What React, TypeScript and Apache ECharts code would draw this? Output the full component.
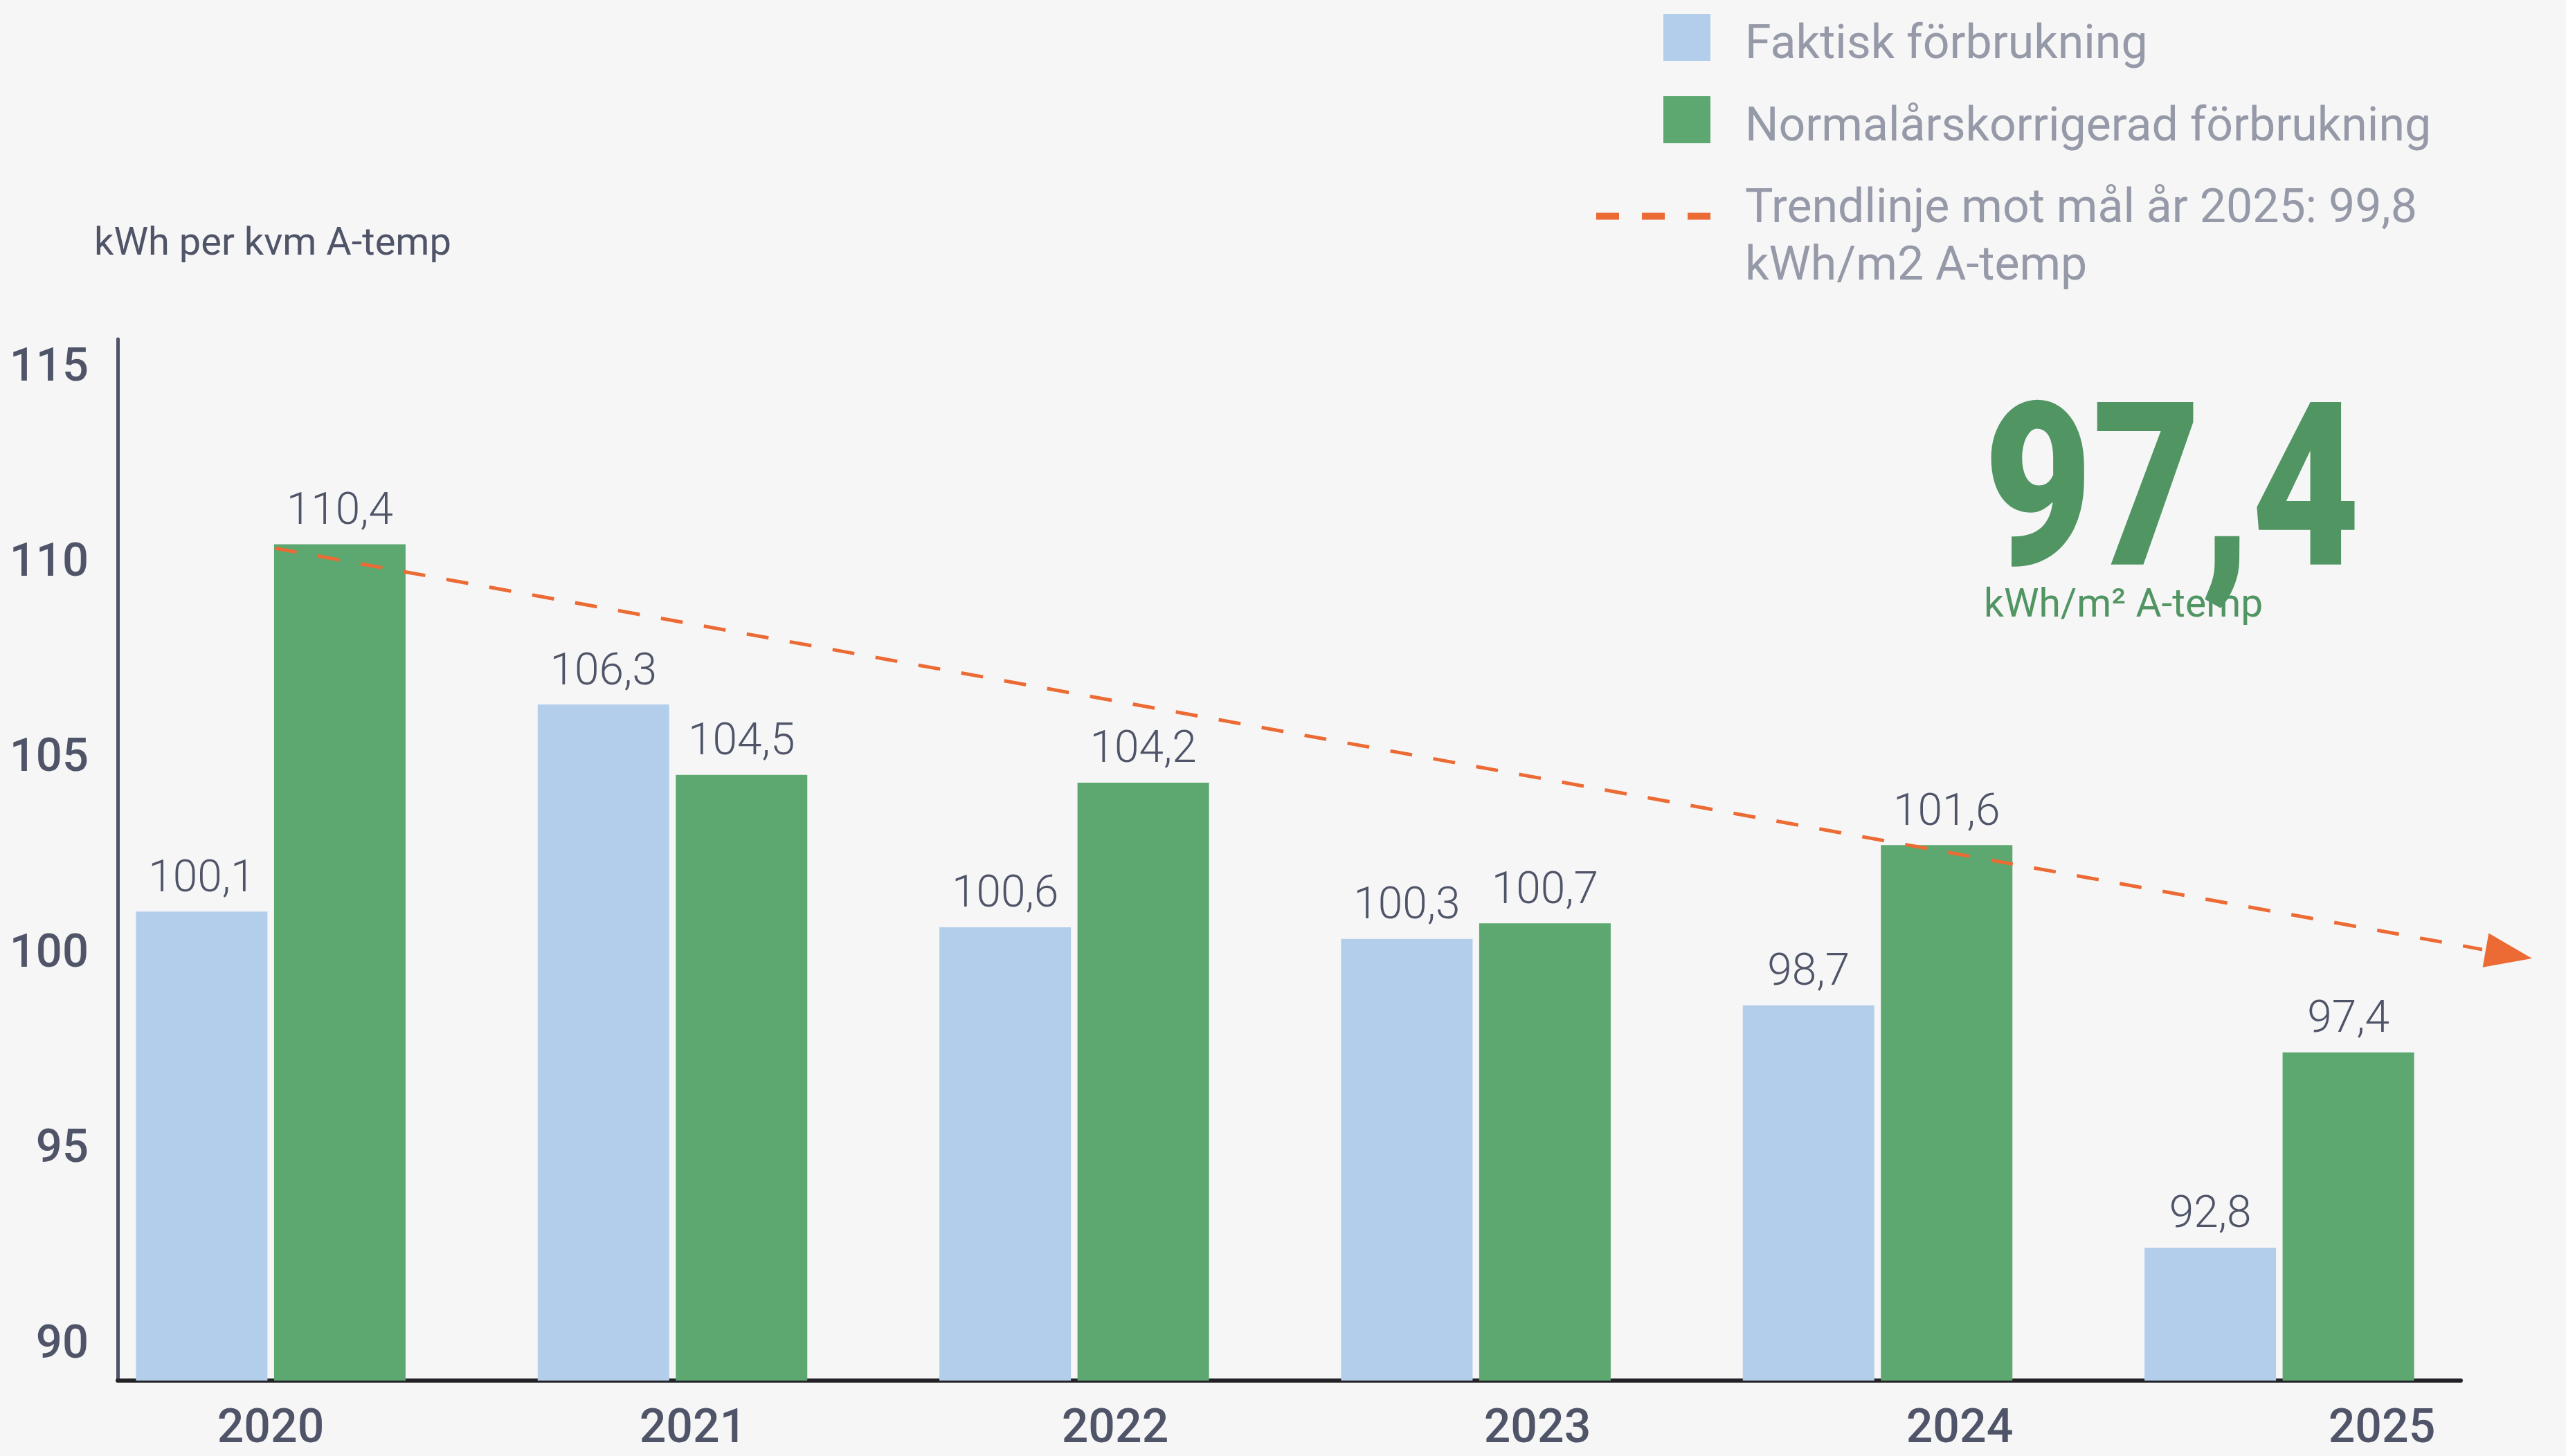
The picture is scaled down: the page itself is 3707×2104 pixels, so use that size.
import React, { useEffect, useRef } from "react";
import * as echarts from "echarts";

const years = ["2020", "2021", "2022", "2023", "2024", "2025"];
const faktiskValues = [101.0, 106.3, 100.6, 100.3, 98.6, 92.4];
const normalValues = [110.4, 104.5, 104.3, 100.7, 102.7, 97.4];
const faktiskLabels = ["100,1", "106,3", "100,6", "100,3", "98,7", "92,8"];
const normalLabels = ["110,4", "104,5", "104,2", "100,7", "101,6", "97,4"];
const yTicks = [90, 95, 100, 105, 110, 115];
const trendX = [0.01, 5.63];
const trendY = [110.3, 99.8];
const seriesNames = ["Faktisk förbrukning", "Normalårskorrigerad förbrukning", "Trendlinje mot mål år 2025: 99,8 kWh/m2 A-temp"];
const trendLegendLines = ["Trendlinje mot mål år 2025: 99,8", "kWh/m2 A-temp"];
const yAxisTitle = "kWh per kvm A-temp";
const headline = "97,4";
const headlineUnit = "kWh/m² A-temp";

const FONT = "Roboto, 'Noto Sans', sans-serif";
const TEXT = "#4F5468";
const LEGEND_TEXT = "#9599A8";
const BLUE = "#B2CEEB";
const GREEN = "#5DA870";
const DARK_GREEN = "#519563";
const ORANGE = "#EC6A33";
const BG = "#F6F6F6";

export default function App() {
  const ref = useRef<HTMLDivElement>(null);
  useEffect(() => {
    if (!ref.current) return;
    const chart = echarts.init(ref.current, null, { renderer: "svg" });
    const gridTop = 490;
    const gridHeight = 1505;
    chart.setOption({
      animation: false,
      backgroundColor: BG,
      textStyle: { fontFamily: FONT },
      title: {
        text: yAxisTitle,
        left: 136,
        top: 321,
        padding: 0,
        textStyle: { fontSize: 56, fontWeight: "normal", color: TEXT, fontFamily: FONT },
      },
      legend: [
        {
          data: [seriesNames[0], seriesNames[1]],
          orient: "vertical",
          left: 2403,
          top: 15,
          padding: 0,
          itemWidth: 68,
          itemHeight: 68,
          itemGap: 39,
          icon: "rect",
          selectedMode: false,
          formatter: (name: string) => "{s| }\n{a|" + name + "}",
          textStyle: {
            fontSize: 68,
            color: LEGEND_TEXT,
            fontFamily: FONT,
            padding: [0, 0, 0, 45],
            rich: {
              s: { lineHeight: 14, fontSize: 10 },
              a: { lineHeight: 68, fontSize: 68, color: LEGEND_TEXT, fontFamily: FONT },
            },
          },
        },
        {
          data: [{ name: seriesNames[2], icon: "path://M0,0H33V10H0ZM66,0H99V10H66ZM132,0H165V10H132Z" }],
          orient: "vertical",
          left: 2306,
          top: 264,
          padding: 0,
          itemWidth: 165,
          itemHeight: 10,
          selectedMode: false,
          formatter: () => "{a|" + trendLegendLines[0] + "}\n{b|" + trendLegendLines[1] + "}",
          textStyle: {
            fontSize: 68,
            color: LEGEND_TEXT,
            fontFamily: FONT,
            padding: [0, 0, 0, 45],
            rich: {
              a: { lineHeight: 136, fontSize: 68, color: LEGEND_TEXT, fontFamily: FONT },
              b: { lineHeight: 29, fontSize: 68, color: LEGEND_TEXT, fontFamily: FONT },
            },
          },
        },
      ],
      grid: [
        { left: 101, width: 3482, top: gridTop, height: gridHeight },
        { left: 391, width: 3050, top: gridTop, height: gridHeight },
        { left: 170, width: 3385, top: gridTop, height: gridHeight },
      ],
      xAxis: [
        {
          type: "category",
          gridIndex: 0,
          data: years,
          axisLine: { show: false },
          axisTick: { show: false },
          axisLabel: { show: false },
        },
        {
          type: "value",
          gridIndex: 0,
          min: -0.5,
          max: 5.5,
          show: false,
        },
        {
          type: "category",
          gridIndex: 1,
          data: years,
          boundaryGap: false,
          axisLine: { show: false },
          axisTick: { show: false },
          axisLabel: {
            fontSize: 68,
            fontWeight: 500,
            lineHeight: 56,
            color: TEXT,
            fontFamily: FONT,
            margin: 38,
            showMinLabel: true,
            showMaxLabel: true,
            interval: 0,
          },
        },
        {
          type: "category",
          gridIndex: 2,
          data: years,
          axisLine: { show: true, onZero: false, lineStyle: { color: "#232226", width: 6 } },
          axisTick: { show: false },
          axisLabel: { show: false },
        },
      ],
      yAxis: [
        {
          type: "value",
          gridIndex: 0,
          min: 89,
          max: 115.65,
          offset: -69,
          axisLine: { show: true, onZero: false, lineStyle: { color: TEXT, width: 5 } },
          axisTick: { show: false },
          splitLine: { show: false },
          axisLabel: {
            customValues: yTicks,
            fontSize: 67,
            fontWeight: 500,
            color: TEXT,
            fontFamily: FONT,
            margin: 42,
          },
        },
        { type: "value", gridIndex: 1, min: 0, max: 1, show: false },
        { type: "value", gridIndex: 2, min: 0, max: 1, show: false },
      ],
      series: [
        {
          name: seriesNames[0],
          type: "bar",
          xAxisIndex: 0,
          yAxisIndex: 0,
          data: faktiskValues,
          barWidth: 190,
          barGap: "5%",
          itemStyle: { color: BLUE },
          label: {
            show: true,
            position: "top",
            distance: 19,
            formatter: (p: any) => faktiskLabels[p.dataIndex],
            fontSize: 64,
            fontWeight: 300,
            color: TEXT,
            fontFamily: FONT,
          },
        },
        {
          name: seriesNames[1],
          type: "bar",
          xAxisIndex: 0,
          yAxisIndex: 0,
          data: normalValues,
          barWidth: 190,
          barGap: "5%",
          itemStyle: { color: GREEN },
          label: {
            show: true,
            position: "top",
            distance: 19,
            formatter: (p: any) => normalLabels[p.dataIndex],
            fontSize: 64,
            fontWeight: 300,
            color: TEXT,
            fontFamily: FONT,
          },
        },
        {
          name: seriesNames[2],
          type: "line",
          xAxisIndex: 1,
          yAxisIndex: 0,
          clip: false,
          z: 5,
          symbol: "none",
          showSymbol: true,
          color: ORANGE,
          itemStyle: { color: ORANGE },
          lineStyle: { color: ORANGE, width: 5, type: [32, 31] },
          data: [
            { value: [trendX[0], trendY[0]], symbol: "none" },
            {
              value: [trendX[1], trendY[1]],
              symbol: "triangle",
              symbolSize: [50, 68],
              symbolRotate: -100,
              symbolOffset: [-34, -6],
            },
          ],
        },
      ],
      graphic: [
        {
          type: "text",
          x: 2866,
          y: 703,
          scaleX: 0.82,
          style: {
            text: headline,
            fontSize: 330,
            fontWeight: 900,
            fill: DARK_GREEN,
            fontFamily: FONT,
            align: "left",
            verticalAlign: "middle",
          },
        },
        {
          type: "text",
          x: 2866,
          y: 871,
          style: {
            text: headlineUnit,
            fontSize: 57,
            fill: DARK_GREEN,
            fontFamily: FONT,
            align: "left",
            verticalAlign: "middle",
          },
        },
      ],
    });
    return () => chart.dispose();
  }, []);
  return (
    <div
      ref={ref}
      style={{ position: "absolute", left: 0, top: 0, width: 3707, height: 2104, background: BG }}
    />
  );
}
